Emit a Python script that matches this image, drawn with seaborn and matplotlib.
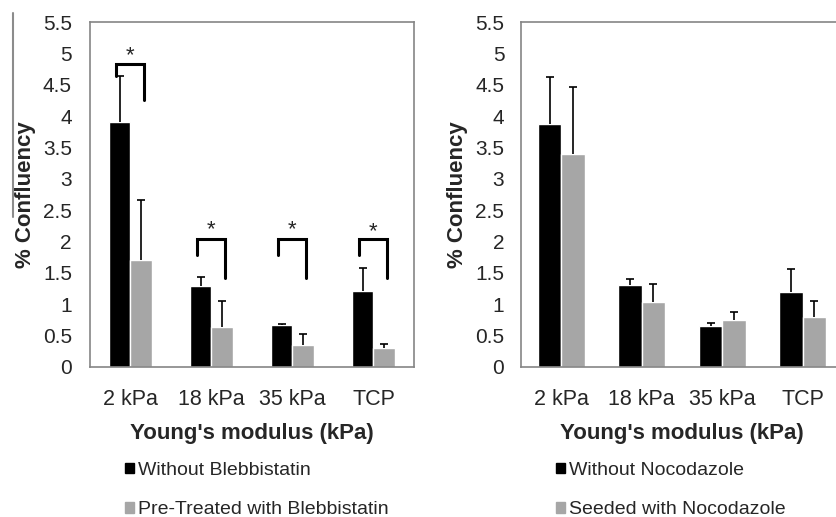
import seaborn as sns
import matplotlib.pyplot as plt
import numpy as np
import pandas as pd
from matplotlib.patches import Patch
from matplotlib.lines import Line2D

sns.set_style("white")
plt.rcParams["font.family"] = ["Liberation Sans", "DejaVu Sans"]

moduli = ["2 kPa", "18 kPa", "35 kPa", "TCP"]

# blebbistatin panel
bleb_groups = ["Without Blebbistatin", "Pre-Treated with Blebbistatin"]
bleb_without = [3.90, 1.29, 0.67, 1.21]
bleb_without_err = [0.74, 0.14, 0.01, 0.37]
bleb_treated = [1.71, 0.64, 0.35, 0.30]
bleb_treated_err = [0.95, 0.42, 0.18, 0.06]
# significance brackets (top line, left leg end, right leg end, star)
sig_top = [4.83, 2.04, 2.04, 2.04]
sig_left = [4.64, 1.79, 1.79, 1.79]
sig_right = [4.25, 1.42, 1.42, 1.42]
sig_star = [4.97, 2.19, 2.19, 2.15]

# nocodazole panel
noco_groups = ["Without Nocodazole", "Seeded with Nocodazole"]
noco_without = [3.87, 1.30, 0.66, 1.19]
noco_without_err = [0.76, 0.11, 0.04, 0.38]
noco_seeded = [3.40, 1.03, 0.75, 0.80]
noco_seeded_err = [1.07, 0.29, 0.13, 0.26]

black = "#000000"
gray = "#a6a6a6"
axcol = "#858585"
yticks = np.arange(0, 5.51, 0.5)

W, H = 837, 517
fig = plt.figure(figsize=(W / 100, H / 100), dpi=100)
ax1 = fig.add_axes([90 / W, 150 / H, 324 / W, 345 / H])
ax2 = fig.add_axes([521 / W, 150 / H, 322 / W, 345 / H])


def panel(ax, groups, a, a_err, b, b_err, width):
    df = pd.DataFrame({
        "modulus": moduli * 2,
        "group": [groups[0]] * 4 + [groups[1]] * 4,
        "value": a + b,
    })
    sns.barplot(data=df, x="modulus", y="value", hue="group",
                palette=[black, gray], width=width, gap=0, errorbar=None,
                saturation=1, legend=False, ax=ax)
    for cont, err in zip(list(ax.containers), [a_err, b_err]):
        xs = [p.get_x() + p.get_width() / 2 for p in cont]
        hs = [p.get_height() for p in cont]
        eb = ax.errorbar(xs, hs, yerr=[np.zeros(len(err)), err], fmt="none",
                         ecolor="black", elinewidth=1.2, capsize=3.2,
                         capthick=1.2)
        # only the upper cap is shown
        eb.lines[1][0].set_visible(False)
    ax.set_xlim(-0.5, 3.5)
    ax.set_ylim(0, 5.5)
    ax.set_yticks(yticks)
    ax.set_yticklabels([f"{v:g}" for v in yticks], fontsize=15)
    ax.set_xticks(range(4))
    ax.set_xticklabels(moduli, fontsize=15.5)
    ax.set_ylabel("% Confluency", fontsize=16, fontweight="bold", labelpad=5)
    ax.set_xlabel("Young's modulus (kPa)", fontsize=16, fontweight="bold",
                  labelpad=9)
    for s in ax.spines.values():
        s.set_color(axcol)
        s.set_linewidth(1.2)
    fig.legend(handles=[Patch(color=black), Patch(color=gray)], labels=groups,
               frameon=False, fontsize=14, handlelength=0.45,
               handleheight=0.45, handletextpad=0.2, labelspacing=1.15,
               borderpad=0, borderaxespad=0, loc="upper left",
               bbox_to_anchor=(ax.get_position().x0 + 35 / W, 1 - 462 / H))


panel(ax1, bleb_groups, bleb_without, bleb_without_err,
      bleb_treated, bleb_treated_err, 0.52)
panel(ax2, noco_groups, noco_without, noco_without_err,
      noco_seeded, noco_seeded_err, 0.58)

# left panel: full box, no ticks
ax1.tick_params(axis="both", length=0)
ax1.tick_params(axis="y", pad=13)
ax1.tick_params(axis="x", pad=16)
for i in range(4):
    xl, xr = i - 0.18, i + 0.17
    ax1.plot([xl, xl, xr, xr], [sig_left[i], sig_top[i], sig_top[i], sig_right[i]],
             color="black", lw=2.2, solid_joinstyle="miter")
    ax1.text(i, sig_star[i], "*", ha="center", va="center", fontsize=16)

# right panel: open on the right, ticks outside
ax2.spines["right"].set_visible(False)
ax2.tick_params(axis="y", length=5, width=1.2, color=axcol, direction="out", pad=7)
ax2.tick_params(axis="x", which="major", length=0, pad=16)
ax2.set_xticks([-0.5, 0.5, 1.5, 2.5, 3.5], minor=True)
ax2.tick_params(axis="x", which="minor", length=5, width=1.2, color=axcol,
                direction="out")

fig.add_artist(Line2D([13 / W, 13 / W], [1 - 13 / H, 1 - 217 / H],
                      color="#8c8c8c", lw=1.5))

fig.savefig("out.png", dpi=100)
